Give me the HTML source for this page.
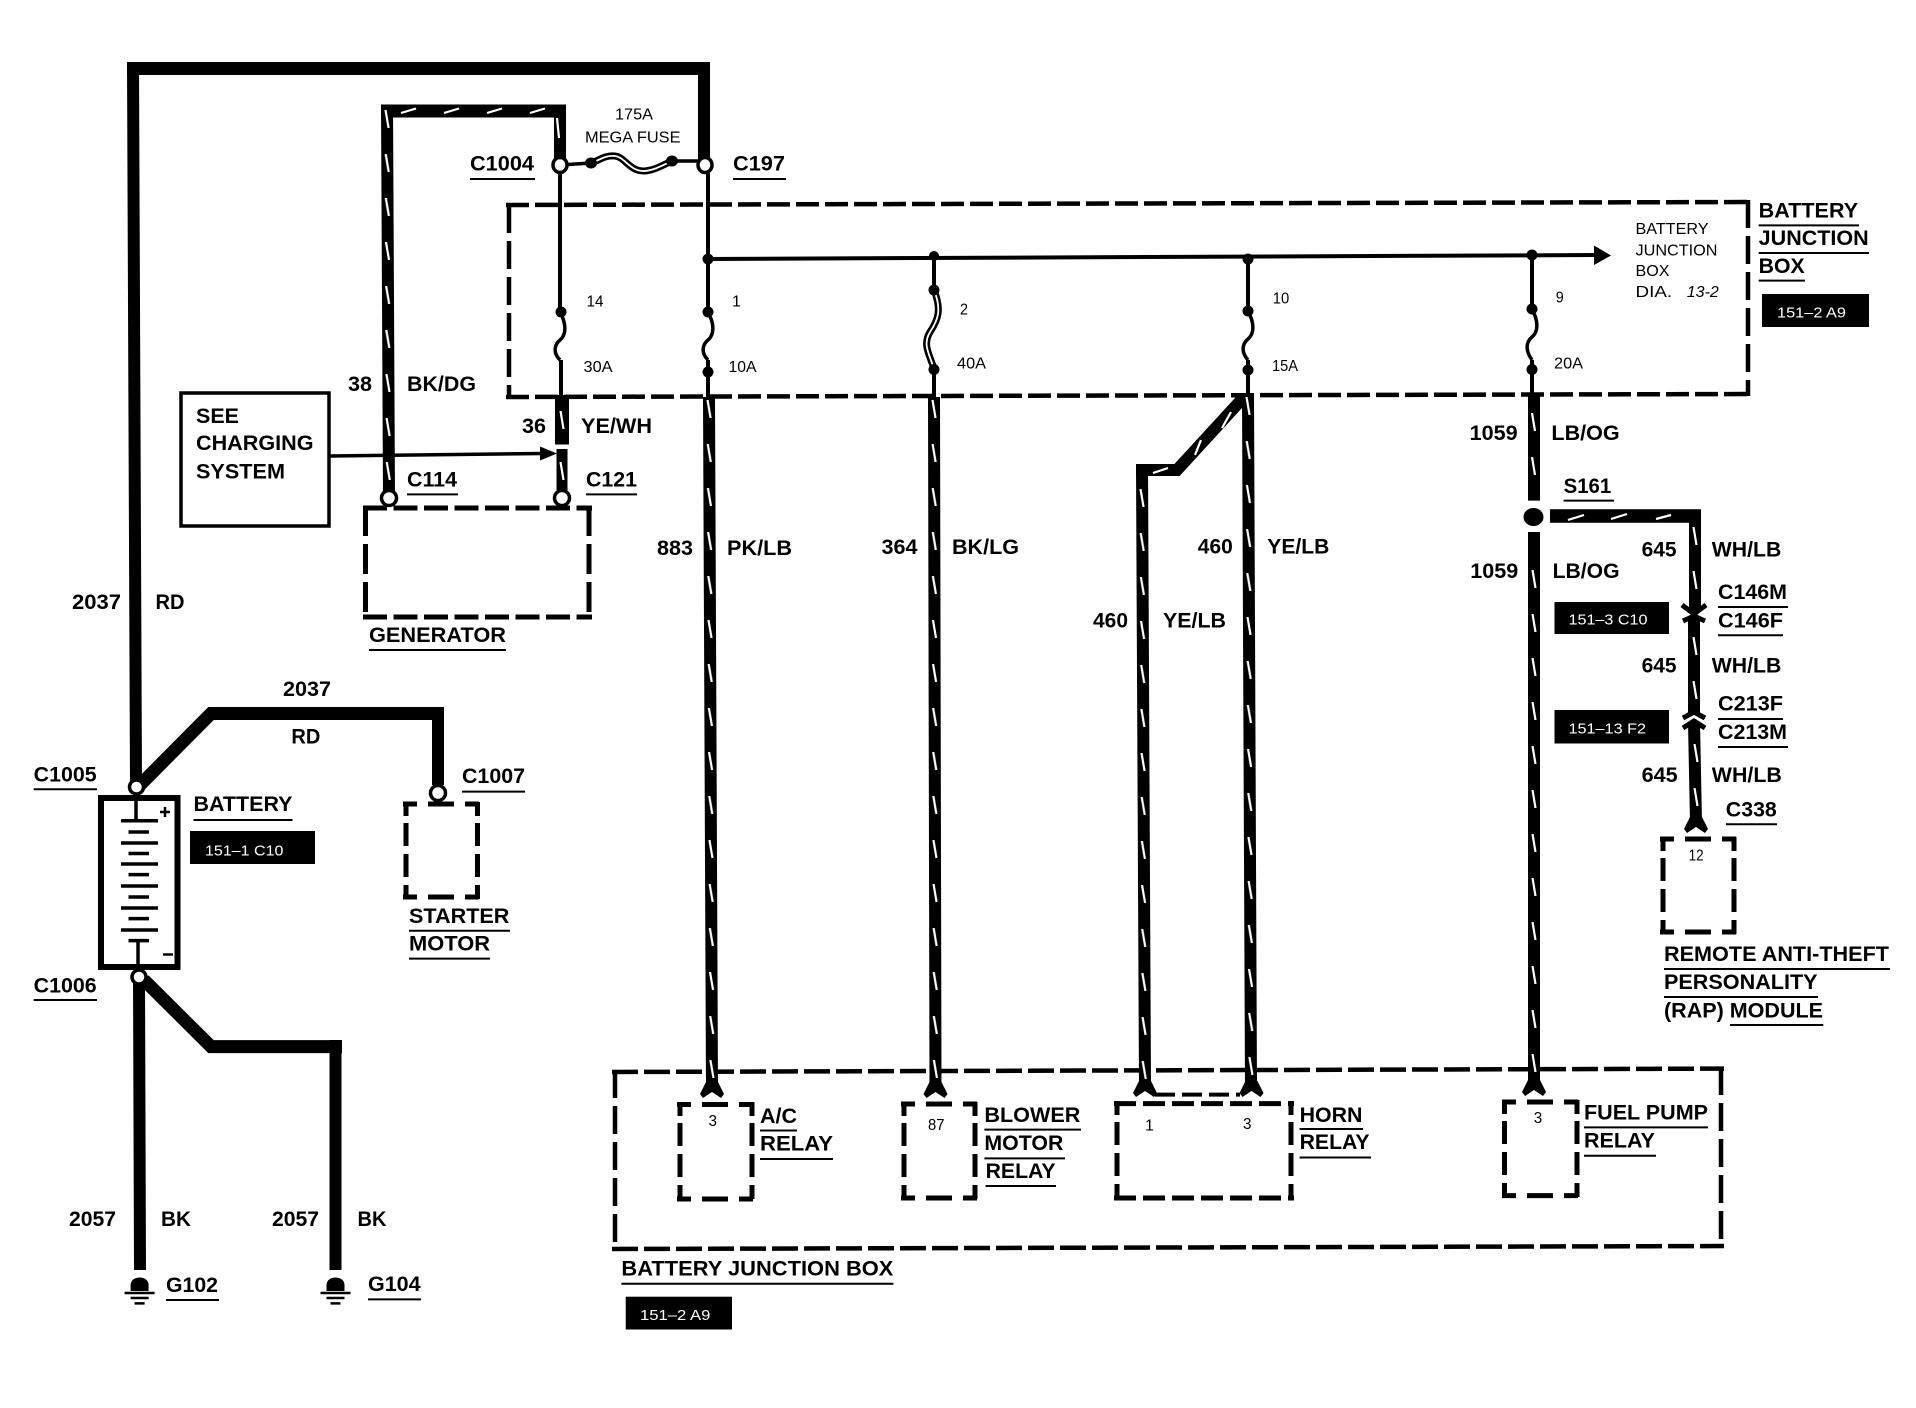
<!DOCTYPE html>
<html><head><meta charset="utf-8"><title>Wiring diagram</title>
<style>
html,body{margin:0;padding:0;background:#fff}
svg{display:block}
text{font-family:"Liberation Sans",sans-serif;fill:#000}
.b{font-weight:700;font-size:21px}
.r{font-size:16px}
.w{font-size:15px;fill:#fff}
.wire{fill:none;stroke:#000;stroke-linejoin:miter}
.d{fill:none;stroke:#000;stroke-width:5}
.h{fill:none;stroke:#000;stroke-width:4.5}
.t{fill:none;stroke:#fff;stroke-width:2.2}
.c{fill:#fff;stroke:#000;stroke-width:3.5}
</style></head><body>
<svg width="1916" height="1408" viewBox="0 0 1916 1408" xmlns="http://www.w3.org/2000/svg">
<defs>
<pattern id="k" width="12" height="44" patternUnits="userSpaceOnUse"><path d="M4.500 0l3 18" stroke="#fff" stroke-width="2.2" fill="none"/></pattern>
<path id="f" d="M-6 -9L-12 3L-9 7L0 1L9 7L12 3L6 -9Z" fill="#000"/>
</defs>
<rect width="1916" height="1408" fill="#fff"/>

<!-- dashed boxes -->
<path class="h" stroke-dasharray="23 6" d="M506 205L1750 202M506 397L1750 394"/>
<path class="h" stroke-dasharray="28 8" d="M509 205V397M1748 200V396"/>
<path class="h" stroke-dasharray="26 6" d="M612 1072L1724 1068.6M612 1249L1724 1246"/>
<path class="h" stroke-dasharray="28 8" d="M615 1070V1251M1721 1067V1248"/>
<path class="d" stroke-dasharray="24 6.500" d="M363 508H592M363 617H592"/>
<path class="d" stroke-dasharray="30 8" d="M365.500 506V619M589 506V619"/>
<path class="d" stroke-dasharray="14 11 26 11 14" d="M677 1104.500H755M677 1199H755"/>
<path class="d" stroke-dasharray="14 7 23 8 23 8 14" d="M680 1102V1201M752 1102V1201"/>
<path class="d" stroke-dasharray="14 11 26 11 14" d="M901 1104H978M901 1198H978"/>
<path class="d" stroke-dasharray="14 7 23 8 23 8 14" d="M904 1102V1200M975 1102V1200"/>
<path class="d" stroke-dasharray="14 11 26 11 14" d="M1502 1102H1580M1502 1195.600H1580"/>
<path class="d" stroke-dasharray="14 7 23 8 23 8 14" d="M1504.500 1100V1198M1577 1100V1198"/>
<path class="d" stroke-dasharray="14 11 26 11 14" d="M403 804H480M403 897H480"/>
<path class="d" stroke-dasharray="14 7 23 8 23 8 14" d="M406 802V899M477.500 802V899"/>
<path class="d" stroke-dasharray="14 11 26 11 14" d="M1660 839H1737M1660 932H1737"/>
<path class="d" stroke-dasharray="14 7 23 8 23 8 14" d="M1663 837V934M1734 837V934"/>
<path class="d" stroke-dasharray="22 7" d="M1114 1103.600H1294M1114 1198H1294"/>
<path class="d" stroke-dasharray="14 7 23 8 23 8 14" d="M1117 1101V1200M1291 1101V1200"/>
<path class="d" stroke-dasharray="20 7" d="M1155 1094.600H1240" style="stroke-width:4"/>

<!-- red wire -->
<path class="wire" stroke-width="12" d="M133 62L136 787M704 62V165"/>
<path class="wire" stroke-width="13" d="M127 68.500H710"/>
<path class="wire" stroke-width="13" d="M138 787L211 713.500H444"/>
<path class="wire" stroke-width="12" d="M438 708V785"/>

<!-- BK/DG -->
<path class="wire" stroke-width="12" d="M387 105L389 497M560 105V165"/>
<path class="wire" stroke-width="13" d="M381 111H566"/>

<!-- thin fused feeds -->
<path class="wire" stroke-width="4" d="M560 165V312M561 360V396M708 165V312M708 360V397M708 259L1597 255M934 256V290M934 369V397M1248 259V311M1248 360V395M1532 255V309M1532 360V393"/>
<path class="wire" stroke-width="3.500" d="M560 165L591 163M672 161H705"/>
<path d="M1594 245.500L1611 255.500L1594 265Z" fill="#000"/>
<path class="wire" stroke-width="3.500" d="M560 312C567 325 566 335 560 340C554 345 553 353 560 360M708 312C715 325 714 335 708 340C702 345 701 353 708 360M1248 311C1255 324 1254 334 1248 339C1242 344 1241 352 1248 360M1532 309C1539 322 1538 332 1532 337C1526 342 1525 350 1532 360"/>
<path class="wire" stroke-width="7" d="M591 163C600 160 605 155 615 156C625 157 630 172 645 171C655 170 663 165 672 161M934 290C942 310 938 320 930 332C922 345 930 355 934 369"/>
<path fill="none" stroke="#fff" stroke-width="1.800" d="M591 163C600 160 605 155 615 156C625 157 630 172 645 171C655 170 663 165 672 161M934 290C942 310 938 320 930 332C922 345 930 355 934 369"/>
<g fill="#000"><ellipse cx="591" cy="163" rx="6" ry="5.500"/><ellipse cx="672" cy="161" rx="6" ry="5.500"/><circle cx="561" cy="312" r="5.500"/><circle cx="708" cy="312" r="5.500"/><circle cx="708" cy="372" r="5.500"/><circle cx="708" cy="259" r="5.500"/><circle cx="934" cy="256" r="5"/><circle cx="934" cy="290" r="5.500"/><circle cx="934" cy="369.500" r="5.500"/><circle cx="1248" cy="259" r="5.500"/><circle cx="1248" cy="311" r="5.500"/><circle cx="1248" cy="370" r="5.500"/><circle cx="1532" cy="255" r="5.500"/><circle cx="1532" cy="309" r="5.500"/><circle cx="1532" cy="369.500" r="5.500"/></g>
<path class="wire" stroke-width="4" d="M1248 370V395M1532 370V393M708 372V397"/>

<!-- 36 -->
<path class="wire" stroke-width="14" d="M562 395V444.500"/>
<path class="wire" stroke-width="11" d="M562 449V497"/>
<!-- charging box arrow -->
<rect x="181" y="393" width="148" height="133" fill="#fff" stroke="#000" stroke-width="3.500"/>
<path class="wire" stroke-width="3.500" d="M329 456L542 453.500"/>
<path d="M540 446.500L557 453.500L540 460.500Z" fill="#000"/>

<!-- long wires -->
<path class="wire" stroke-width="12" d="M709 397L712 1090M934 397L935.500 1090M1248 395L1251 1090M1145 1090L1142 464M1534 393V500.600M1534 532V1090"/>
<path class="wire" stroke-width="12" d="M1136 470H1177L1244 397"/>
<path class="wire" stroke-width="13.500" d="M1550 516H1701"/>
<path class="wire" stroke-width="12" d="M1695 510V612M1694 617L1694 713M1694 722L1696 823"/>
<ellipse cx="1533.500" cy="517" rx="10" ry="9" fill="#000"/>

<!-- forks -->
<use href="#f" x="712" y="1091"/><use href="#f" x="935.500" y="1091"/><use href="#f" x="1145" y="1090"/><use href="#f" x="1251.500" y="1090"/><use href="#f" x="1534" y="1089"/><use href="#f" x="1696" y="826"/>
<path class="wire" stroke-width="5" d="M1682 605L1694 614L1706 605M1683 621L1694 616L1705 621M1683 718L1694 712L1705 718M1683 728L1694 721L1705 728"/>

<!-- ticks on wires -->
<g fill="url(#k)">
<rect transform="translate(381,110) rotate(-.2)" width="12" height="385"/>
<rect transform="translate(703,400) rotate(-.25)" width="12" height="690"/>
<rect transform="translate(928,400) rotate(-.12)" width="12" height="690"/>
<rect transform="translate(1242,397) rotate(-.25)" width="12" height="690"/>
<rect transform="translate(1136,489) rotate(-.22)" width="12" height="600"/>
<rect transform="translate(1527.500,413)" width="12" height="70"/>
<rect transform="translate(1528,570)" width="12" height="520"/>
<rect transform="translate(1689,527)" width="12" height="70"/>
<rect transform="translate(1689,637)" width="12" height="70"/>
<rect transform="translate(1690,744)" width="12" height="70"/>
<rect transform="translate(556,411)" width="12" height="20"/>
<rect transform="translate(556,462)" width="12" height="20"/>
</g>
<path class="t" d="M401 113l15-4.500M444 113l15-4.500M487 113l15-4.500M530 113l15-4.500M557 118l2 20M1568 520l16-5M1611 519l16-5M1656 519l15-4M1153 473l15-5M1195 455l6-15M1222 428l9-16"/>

<!-- connector circles -->
<ellipse class="c" cx="560" cy="165" rx="7" ry="7.500"/><ellipse class="c" cx="705" cy="165" rx="7" ry="7.500"/><ellipse class="c" cx="389" cy="498" rx="7.500" ry="7.500"/><ellipse class="c" cx="562" cy="498" rx="7.500" ry="7.500"/>

<!-- battery -->
<rect x="101" y="798" width="76.500" height="169" fill="#fff" stroke="#000" stroke-width="6"/>
<path class="wire" stroke-width="3.500" d="M121 820.700H158M128.500 832H149M121 843H158M128.500 853.500H149M121 864H158M128.500 874.600H149M121 886H158M128.500 897H149M121 908H158M128.500 918.600H149M121 930H158M128.500 940.600H149M136 795V820M138 940V977"/>
<path class="wire" stroke-width="2.500" d="M160 812H170M165 807V817M163 954.500H173"/>
<path class="wire" stroke-width="12" d="M139 977L140 1270"/>
<path class="wire" stroke-width="13" d="M144 980L211 1046.600H342"/>
<path class="wire" stroke-width="12" d="M335.500 1040V1270"/>
<ellipse class="c" cx="136.500" cy="787" rx="7" ry="7"/><ellipse class="c" cx="139" cy="977" rx="7" ry="7"/><ellipse class="c" cx="438" cy="793" rx="7.500" ry="7.500"/>

<!-- grounds -->
<path d="M130.600 1291V1285C130.600 1275 148.600 1275 148.600 1285V1291Z" fill="#000"/>
<path class="wire" stroke-width="2.500" d="M124.600 1293H154.600M130.600 1298H148.600M134.600 1303.400H144.600"/>
<path d="M326.500 1291V1285C326.500 1275 344.500 1275 344.500 1285V1291Z" fill="#000"/>
<path class="wire" stroke-width="2.500" d="M320.500 1293H350.500M326.500 1298H344.500M330.500 1303.400H340.500"/>

<!-- black tags -->
<g fill="#000">
<rect x="1762" y="294" width="107" height="33"/>
<rect x="1554.500" y="602" width="114.500" height="32"/>
<rect x="1554.500" y="710" width="114.500" height="33.500"/>
<rect x="190" y="831" width="125" height="33"/>
<rect x="625.700" y="1296.700" width="106.300" height="32.800"/>
</g>
<g transform="translate(0,-1)">
<text class="w" x="1777" y="318.500" textLength="69" lengthAdjust="spacingAndGlyphs">151–2 A9</text>
<text class="w" x="1568.500" y="625.500" textLength="79" lengthAdjust="spacingAndGlyphs">151–3 C10</text>
<text class="w" x="1568.500" y="734.500" textLength="77.500" lengthAdjust="spacingAndGlyphs">151–13 F2</text>
<text class="w" x="205" y="856.700" textLength="78.400" lengthAdjust="spacingAndGlyphs">151–1 C10</text>
<text class="w" x="640" y="1321" textLength="70.400" lengthAdjust="spacingAndGlyphs">151–2 A9</text>
</g>

<!-- underlines -->
<path class="wire" stroke-width="2" d="M470 179H535M733 179H786M407 494.400H458M586 494.400H637M369 650H506M1758.700 225.400H1859M1758.700 253H1869M1758.700 280.600H1805M1563.600 500.600H1614M1718 607H1788M1718 635.300H1783M1718 719H1783M1718 747H1788M1726 824.300H1777M1664 969H1890M1664 997H1818M1730 1025H1823.300M33.700 789.300H97M462 791.600H525M193.500 820H292.500M33.700 1000H97M409 930.700H510M409 958.600H490M166 1300H219M368 1299.400H421M760 1130.500H797M760 1159H833M621.400 1283.700H893.400M984.400 1129.600H1081M984.400 1158.400H1065M985.600 1186H1056M1299.600 1129H1363M1299.600 1157.500H1371M1584 1127.400H1708M1584 1155.700H1656"/>

<!-- bold labels -->
<g class="b" transform="translate(0,-1)">
<text x="470" y="171.500" textLength="64" lengthAdjust="spacingAndGlyphs">C1004</text>
<text x="733" y="171.500" textLength="52" lengthAdjust="spacingAndGlyphs">C197</text>
<text x="348" y="392" textLength="24" lengthAdjust="spacingAndGlyphs">38</text>
<text x="407" y="392" textLength="69" lengthAdjust="spacingAndGlyphs">BK/DG</text>
<text x="522" y="434" textLength="24" lengthAdjust="spacingAndGlyphs">36</text>
<text x="581" y="434" textLength="71" lengthAdjust="spacingAndGlyphs">YE/WH</text>
<text x="196" y="424" textLength="43" lengthAdjust="spacingAndGlyphs">SEE</text>
<text x="196" y="451" textLength="117.500" lengthAdjust="spacingAndGlyphs">CHARGING</text>
<text x="196" y="479.500" textLength="89" lengthAdjust="spacingAndGlyphs">SYSTEM</text>
<text x="407" y="487.600" textLength="50" lengthAdjust="spacingAndGlyphs">C114</text>
<text x="586" y="487.600" textLength="51" lengthAdjust="spacingAndGlyphs">C121</text>
<text x="657" y="556" textLength="36" lengthAdjust="spacingAndGlyphs">883</text>
<text x="727" y="556" textLength="65" lengthAdjust="spacingAndGlyphs">PK/LB</text>
<text x="881.500" y="555" textLength="36" lengthAdjust="spacingAndGlyphs">364</text>
<text x="952" y="555" textLength="67" lengthAdjust="spacingAndGlyphs">BK/LG</text>
<text x="1197.800" y="554.500" textLength="35" lengthAdjust="spacingAndGlyphs">460</text>
<text x="1267.300" y="554.500" textLength="62" lengthAdjust="spacingAndGlyphs">YE/LB</text>
<text x="1093" y="628.600" textLength="35" lengthAdjust="spacingAndGlyphs">460</text>
<text x="1163" y="628.600" textLength="63" lengthAdjust="spacingAndGlyphs">YE/LB</text>
<text x="1469.700" y="441" textLength="48" lengthAdjust="spacingAndGlyphs">1059</text>
<text x="1551.400" y="441" textLength="68.300" lengthAdjust="spacingAndGlyphs">LB/OG</text>
<text x="1563.600" y="494" textLength="47.600" lengthAdjust="spacingAndGlyphs">S161</text>
<text x="1470.300" y="579" textLength="48" lengthAdjust="spacingAndGlyphs">1059</text>
<text x="1552.600" y="579" textLength="67" lengthAdjust="spacingAndGlyphs">LB/OG</text>
<text x="1641.600" y="557.600" textLength="35" lengthAdjust="spacingAndGlyphs">645</text>
<text x="1711.800" y="557.600" textLength="69.500" lengthAdjust="spacingAndGlyphs">WH/LB</text>
<text x="1718" y="600" textLength="69" lengthAdjust="spacingAndGlyphs">C146M</text>
<text x="1718" y="628.600" textLength="65" lengthAdjust="spacingAndGlyphs">C146F</text>
<text x="1641.600" y="673.500" textLength="35" lengthAdjust="spacingAndGlyphs">645</text>
<text x="1711.800" y="673.500" textLength="69.500" lengthAdjust="spacingAndGlyphs">WH/LB</text>
<text x="1718" y="711.500" textLength="65" lengthAdjust="spacingAndGlyphs">C213F</text>
<text x="1718" y="740" textLength="69" lengthAdjust="spacingAndGlyphs">C213M</text>
<text x="1641.700" y="783" textLength="36" lengthAdjust="spacingAndGlyphs">645</text>
<text x="1711.800" y="783" textLength="70" lengthAdjust="spacingAndGlyphs">WH/LB</text>
<text x="1725.800" y="817.600" textLength="51" lengthAdjust="spacingAndGlyphs">C338</text>
<text x="1664" y="962" textLength="225" lengthAdjust="spacingAndGlyphs">REMOTE ANTI-THEFT</text>
<text x="1664" y="990" textLength="153.600" lengthAdjust="spacingAndGlyphs">PERSONALITY</text>
<text x="1664" y="1018.300" textLength="159" lengthAdjust="spacingAndGlyphs">(RAP) MODULE</text>
<text x="1758.700" y="218.700" textLength="99.400" lengthAdjust="spacingAndGlyphs">BATTERY</text>
<text x="1758.700" y="246" textLength="110" lengthAdjust="spacingAndGlyphs">JUNCTION</text>
<text x="1758.700" y="274" textLength="46" lengthAdjust="spacingAndGlyphs">BOX</text>
<text x="72" y="610" textLength="49" lengthAdjust="spacingAndGlyphs">2037</text>
<text x="155.500" y="610" textLength="29" lengthAdjust="spacingAndGlyphs">RD</text>
<text x="369" y="643" textLength="137" lengthAdjust="spacingAndGlyphs">GENERATOR</text>
<text x="283" y="697" textLength="48" lengthAdjust="spacingAndGlyphs">2037</text>
<text x="291.400" y="744.400" textLength="29" lengthAdjust="spacingAndGlyphs">RD</text>
<text x="33.700" y="782.600" textLength="63" lengthAdjust="spacingAndGlyphs">C1005</text>
<text x="462" y="784" textLength="63" lengthAdjust="spacingAndGlyphs">C1007</text>
<text x="193.500" y="811.800" textLength="99" lengthAdjust="spacingAndGlyphs">BATTERY</text>
<text x="33.700" y="993.600" textLength="63" lengthAdjust="spacingAndGlyphs">C1006</text>
<text x="409" y="924" textLength="100.400" lengthAdjust="spacingAndGlyphs">STARTER</text>
<text x="409" y="951.400" textLength="81" lengthAdjust="spacingAndGlyphs">MOTOR</text>
<text x="69" y="1227" textLength="47" lengthAdjust="spacingAndGlyphs">2057</text>
<text x="161" y="1227" textLength="30" lengthAdjust="spacingAndGlyphs">BK</text>
<text x="272" y="1227" textLength="47" lengthAdjust="spacingAndGlyphs">2057</text>
<text x="357.500" y="1227" textLength="29" lengthAdjust="spacingAndGlyphs">BK</text>
<text x="166" y="1293" textLength="52" lengthAdjust="spacingAndGlyphs">G102</text>
<text x="368" y="1292" textLength="52.600" lengthAdjust="spacingAndGlyphs">G104</text>
<text x="760" y="1124" textLength="37" lengthAdjust="spacingAndGlyphs">A/C</text>
<text x="760" y="1151.600" textLength="73" lengthAdjust="spacingAndGlyphs">RELAY</text>
<text x="621.400" y="1276.500" textLength="272" lengthAdjust="spacingAndGlyphs">BATTERY JUNCTION BOX</text>
<text x="984.400" y="1123" textLength="96" lengthAdjust="spacingAndGlyphs">BLOWER</text>
<text x="984.400" y="1151" textLength="79" lengthAdjust="spacingAndGlyphs">MOTOR</text>
<text x="985.600" y="1179" textLength="70" lengthAdjust="spacingAndGlyphs">RELAY</text>
<text x="1299.600" y="1123" textLength="62.800" lengthAdjust="spacingAndGlyphs">HORN</text>
<text x="1299.600" y="1150" textLength="70" lengthAdjust="spacingAndGlyphs">RELAY</text>
<text x="1584" y="1120.700" textLength="124" lengthAdjust="spacingAndGlyphs">FUEL PUMP</text>
<text x="1584" y="1148.500" textLength="71" lengthAdjust="spacingAndGlyphs">RELAY</text>
</g>

<!-- regular small labels -->
<g class="r" transform="translate(0,-1.500)">
<text x="615" y="121" textLength="38" lengthAdjust="spacingAndGlyphs">175A</text>
<text x="585" y="144" textLength="95.500" lengthAdjust="spacingAndGlyphs">MEGA FUSE</text>
<text x="586.500" y="308" textLength="17" lengthAdjust="spacingAndGlyphs">14</text>
<text x="732" y="308">1</text>
<text x="960" y="316" textLength="8" lengthAdjust="spacingAndGlyphs">2</text>
<text x="583.500" y="373.500" textLength="29" lengthAdjust="spacingAndGlyphs">30A</text>
<text x="728.500" y="373.500" textLength="28" lengthAdjust="spacingAndGlyphs">10A</text>
<text x="957" y="370" textLength="29" lengthAdjust="spacingAndGlyphs">40A</text>
<text x="1272.800" y="305" textLength="16.500" lengthAdjust="spacingAndGlyphs">10</text>
<text x="1272" y="372.600" textLength="26" lengthAdjust="spacingAndGlyphs">15A</text>
<text x="1555.700" y="304" textLength="8" lengthAdjust="spacingAndGlyphs">9</text>
<text x="1554" y="370" textLength="29" lengthAdjust="spacingAndGlyphs">20A</text>
<text x="1635.500" y="235.700" textLength="73" lengthAdjust="spacingAndGlyphs">BATTERY</text>
<text x="1635.500" y="257" textLength="82" lengthAdjust="spacingAndGlyphs">JUNCTION</text>
<text x="1635.500" y="277.500" textLength="34" lengthAdjust="spacingAndGlyphs">BOX</text>
<text x="1635.500" y="298.600" textLength="36.600" lengthAdjust="spacingAndGlyphs">DIA.</text>
<text x="1686.800" y="298.600" textLength="32" lengthAdjust="spacingAndGlyphs" font-style="italic">13-2</text>
<text x="1688.600" y="862" textLength="15" lengthAdjust="spacingAndGlyphs">12</text>
<text x="708.500" y="1127.400" textLength="8.500" lengthAdjust="spacingAndGlyphs">3</text>
<text x="928" y="1131.400" textLength="16.500" lengthAdjust="spacingAndGlyphs">87</text>
<text x="1145" y="1132">1</text>
<text x="1243" y="1130.500" textLength="8.500" lengthAdjust="spacingAndGlyphs">3</text>
<text x="1533.700" y="1124.700" textLength="8.500" lengthAdjust="spacingAndGlyphs">3</text>
</g>
</svg>
</body></html>
